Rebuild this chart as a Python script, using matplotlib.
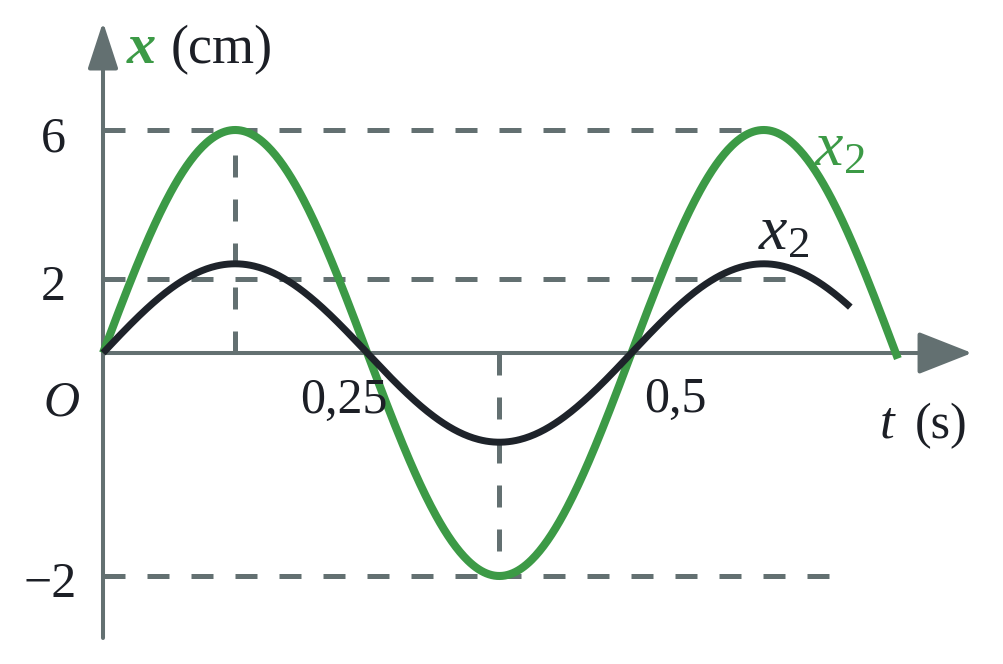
import numpy as np
import matplotlib.pyplot as plt
from matplotlib.patches import FancyArrowPatch

plt.rcParams['font.family'] = ['Liberation Serif', 'DejaVu Serif']
plt.rcParams['mathtext.fontset'] = 'custom'
plt.rcParams['mathtext.rm'] = 'Liberation Serif'
plt.rcParams['mathtext.it'] = 'Liberation Serif:italic'

# values
period = 0.5                 # s
amp_green = 6.0              # cm
amp_black = 2.4              # cm
t_end_green = 0.752
t_end_black = 0.707
y_ticks = [6, 2, -6]
y_labels = ['6', '2', '\u22122']
t_ticks = [0.25, 0.5]
t_labels = ['0,25', '0,5']
peak_t = [0.125, 0.375]      # dashed verticals
hline_ends = [0.625, 0.655, 0.70]

green = '#3c9a46'
black = '#1e232a'
gray = '#637071'
txt = '#1c1f26'

# scale of the drawing (pixels per unit) and origin
SX = 1057.0
SY = 223.0 / 6
X0, Y0 = 103, 353

fig = plt.figure(figsize=(10.04, 6.64), dpi=100)
ax = fig.add_axes([0, 0, 1, 1])
ax.set_xlim(-X0 / SX, (1004 - X0) / SX)
ax.set_ylim(-(664 - Y0) / SY, Y0 / SY)
ax.axis('off')

# dashed guide lines
for yv, xe in zip(y_ticks, hline_ends):
    ax.plot([0, xe], [yv, yv], color=gray, lw=3.6, dashes=(4.4, 4.4),
            solid_capstyle='butt', dash_capstyle='butt', zorder=1)
ax.plot([peak_t[0], peak_t[0]], [0, amp_green], color=gray, lw=3.6,
        dashes=(4.4, 4.4), dash_capstyle='butt', zorder=1)
ax.plot([peak_t[1], peak_t[1]], [0, -amp_green], color=gray, lw=3.6,
        dashes=(4.4, 4.4), dash_capstyle='butt', zorder=1)

# axes with arrows
ytip = (Y0 - 22) / SY
ybot = -(638 - Y0) / SY
xtip = (972 - X0) / SX
ax.add_patch(FancyArrowPatch((0, ybot), (0, ytip),
             arrowstyle='-|>,head_length=28.8,head_width=9.4',
             mutation_scale=1, lw=2.9, color=gray, shrinkA=0, shrinkB=0, zorder=2))
ax.add_patch(FancyArrowPatch((0, 0), (xtip, 0),
             arrowstyle='-|>,head_length=33.8,head_width=13.3',
             mutation_scale=1, lw=2.9, color=gray, shrinkA=0, shrinkB=0, zorder=2))

# curves
tg = np.linspace(0, t_end_green, 600)
tb = np.linspace(0, t_end_black, 600)
ax.plot(tg, amp_green * np.sin(2 * np.pi * tg / period), color=green, lw=5.8,
        solid_capstyle='butt', zorder=3)
ax.plot(tb, amp_black * np.sin(2 * np.pi * tb / period), color=black, lw=5.0,
        solid_capstyle='butt', zorder=4)

fs = 36
op = 'offset pixels'
# y tick labels
for yv, lab in zip(y_ticks, y_labels):
    dx = -26 if yv < 0 else -37
    ax.annotate(lab, (0, yv), xytext=(dx, -21), textcoords=op, ha='right',
                va='baseline', fontsize=fs, color=txt)
# origin
ax.annotate('O', (0, 0), xytext=(-23, -62), textcoords=op, ha='right',
            va='baseline', fontsize=fs, color=txt, style='italic')
# t tick labels
ax.annotate(t_labels[0], (t_ticks[0], 0), xytext=(20, -60), textcoords=op,
            ha='right', va='baseline', fontsize=fs, color=txt)
ax.annotate(t_labels[1], (t_ticks[1], 0), xytext=(13, -59), textcoords=op,
            ha='left', va='baseline', fontsize=fs, color=txt)

# axis titles
ax.annotate('x', (0, ytip), xytext=(24, -41), textcoords=op, ha='left',
            va='baseline', fontsize=42, color=green, style='italic', weight='bold')
ax.annotate('(cm)', (0, ytip), xytext=(68, -41), textcoords=op, ha='left',
            va='baseline', fontsize=39, color=txt)
ax.annotate('t', (xtip, 0), xytext=(-92, -85), textcoords=op, ha='left',
            va='baseline', fontsize=38, color=txt, style='italic')
ax.annotate('(s)', (xtip, 0), xytext=(-4, -85), textcoords=op, ha='right',
            va='baseline', fontsize=fs, color=txt)

# curve labels
tp = 1.25 * period
ax.annotate(r'$x_2$', (tp, amp_green), xytext=(50, -35), textcoords=op,
            ha='left', va='baseline', fontsize=46, color=green)
ax.annotate(r'$x_2$', (tp, amp_black), xytext=(-6, 14), textcoords=op,
            ha='left', va='baseline', fontsize=46, color=black)

fig.savefig('out.png', dpi=100)
